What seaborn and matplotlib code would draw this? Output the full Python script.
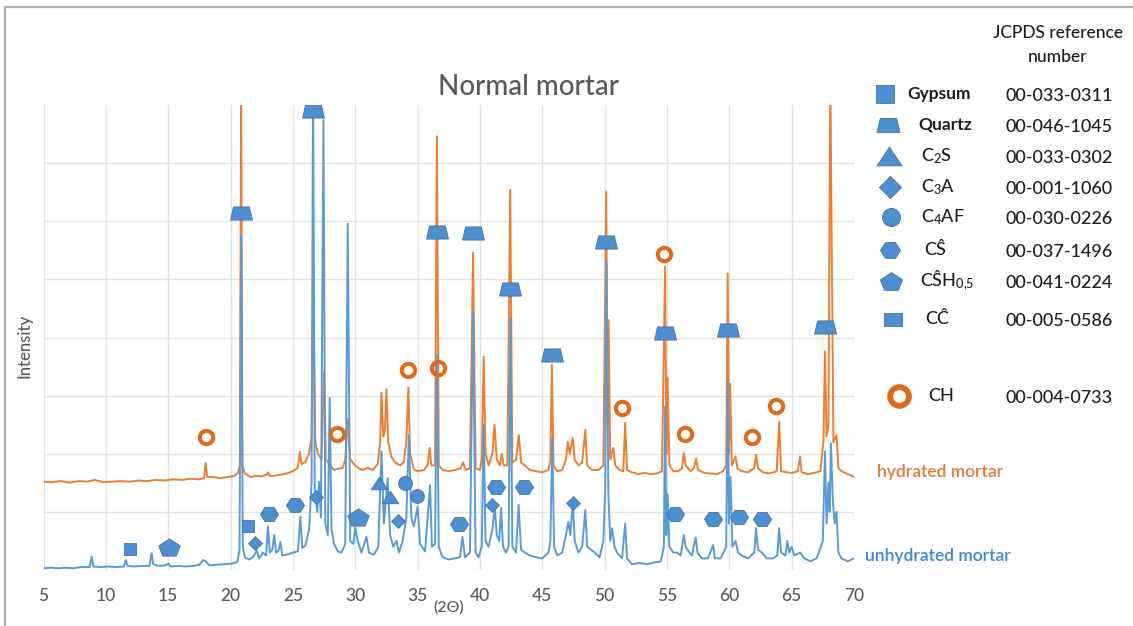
import matplotlib
matplotlib.use("Agg")
import matplotlib.pyplot as plt
import seaborn as sns
from matplotlib.path import Path
from matplotlib.lines import Line2D

# ---------------- data ----------------
unhydrated_points = [
    (5.0,0.03),(5.6,0.04),(6.2,0.03),(6.8,0.04),(7.4,0.03),(8.0,0.05),(8.7,0.05),(8.86,0.23),(9.0,0.06),
    (9.6,0.05),(10.2,0.06),(10.8,0.05),(11.45,0.06),(11.6,0.17),(11.75,0.07),(12.3,0.06),(12.9,0.07),
    (13.5,0.07),(13.67,0.29),(13.8,0.1),(14.2,0.07),(14.8,0.08),(15.0,0.11),(15.2,0.06),(15.8,0.07),
    (16.4,0.06),(17.0,0.07),(17.5,0.09),(17.8,0.17),(18.0,0.15),(18.3,0.08),(18.9,0.09),(19.5,0.1),
    (20.1,0.11),(20.55,0.14),(20.72,0.35),(20.85,5.77),(20.98,0.4),(21.15,0.22),(21.5,0.18),(21.8,0.22),
    (22.1,0.33),(22.3,0.2),(22.6,0.3),(22.85,0.25),(23.0,0.75),(23.15,0.3),(23.35,0.35),(23.5,0.6),
    (23.65,0.3),(23.85,0.33),(24.0,0.48),(24.15,0.25),(24.6,0.27),(25.0,0.3),(25.4,0.32),(25.6,0.92),
    (25.75,0.38),(26.0,0.42),(26.3,0.7),(26.5,1.5),(26.62,8.6),(26.75,1.4),(26.95,1.0),(27.1,1.52),
    (27.25,0.9),(27.45,7.74),(27.6,0.8),(27.8,0.6),(27.95,2.96),(28.1,0.7),(28.3,0.45),(28.6,0.32),
    (28.9,0.3),(29.2,0.45),(29.4,5.96),(29.6,0.5),(29.85,0.45),(30.0,0.74),(30.2,0.5),(30.5,0.3),
    (30.9,0.57),(31.1,0.3),(31.5,0.26),(31.85,0.4),(32.1,2.04),(32.3,0.8),(32.6,1.58),(32.8,0.6),
    (33.05,0.4),(33.3,0.5),(33.5,0.3),(33.8,0.5),(34.1,0.9),(34.3,2.32),(34.5,0.9),(34.7,0.75),
    (35.0,1.09),(35.2,0.45),(35.6,0.32),(36.0,1.46),(36.15,0.4),(36.4,0.45),(36.55,3.7),(36.7,0.4),
    (37.0,0.22),(37.5,0.18),(38.0,0.2),(38.4,0.22),(38.6,0.57),(38.8,0.22),(39.2,0.3),(39.45,4.45),
    (39.65,0.3),(39.9,0.22),(40.15,0.4),(40.3,2.5),(40.45,0.5),(40.7,0.4),(41.0,0.7),(41.2,1.07),
    (41.35,0.6),(41.55,0.5),(41.7,1.07),(41.85,0.4),(42.1,0.3),(42.3,0.4),(42.45,4.34),(42.6,0.4),
    (42.9,0.3),(43.1,1.12),(43.3,0.35),(43.6,0.3),(44.0,0.25),(44.5,0.22),(45.0,0.2),(45.5,0.3),
    (45.65,0.5),(45.8,2.27),(45.95,0.4),(46.2,0.25),(46.6,0.3),(46.9,0.6),(47.1,0.83),(47.25,0.6),
    (47.45,1.18),(47.6,0.5),(47.9,0.3),(48.2,0.4),(48.45,1.03),(48.6,0.4),(48.9,0.35),(49.2,0.3),
    (49.6,0.22),(49.9,0.5),(50.05,1.4),(50.15,5.31),(50.3,1.3),(50.45,0.5),(50.6,0.72),(50.8,0.4),
    (51.0,0.3),(51.4,0.2),(51.65,0.8),(51.8,0.2),(52.2,0.1),(52.8,0.12),(53.4,0.1),(54.0,0.13),
    (54.5,0.15),(54.75,0.4),(54.85,2.81),(54.95,0.6),(55.05,1.3),(55.2,0.4),(55.5,0.3),(55.8,0.3),
    (56.1,0.25),(56.35,0.6),(56.5,0.4),(56.8,0.3),(57.0,0.25),(57.3,0.56),(57.45,0.3),(57.8,0.2),
    (58.3,0.2),(58.7,0.43),(58.85,0.2),(59.3,0.2),(59.75,0.4),(59.87,3.27),(59.97,0.8),(60.1,1.6),
    (60.25,0.4),(60.5,0.5),(60.7,0.3),(61.0,0.25),(61.5,0.2),(62.0,0.3),(62.15,0.72),(62.3,0.35),
    (62.6,0.3),(63.0,0.2),(63.5,0.2),(63.85,0.25),(64.0,0.72),(64.15,0.3),(64.5,0.25),(64.66,0.5),
    (64.8,0.3),(65.0,0.4),(65.2,0.25),(65.7,0.3),(66.0,0.2),(66.5,0.15),(67.0,0.2),(67.5,0.5),
    (67.67,2.04),(67.8,0.8),(67.95,1.5),(68.05,1.0),(68.15,2.18),(68.3,1.2),(68.45,0.8),(68.6,1.0),
    (68.75,0.3),(69.0,0.2),(69.5,0.15),(70.0,0.2),
]

hydrated_points = [
    (5.0,1.52),(5.7,1.51),(6.4,1.53),(7.1,1.5),(7.8,1.53),(8.5,1.52),(9.1,1.55),(9.8,1.51),(10.5,1.52),
    (11.2,1.53),(11.9,1.52),(12.6,1.54),(13.3,1.53),(14.0,1.55),(14.7,1.54),(15.4,1.56),(16.1,1.55),
    (16.8,1.57),(17.5,1.56),(17.88,1.58),(18.0,1.84),(18.12,1.6),(18.6,1.6),(19.2,1.58),(19.8,1.6),
    (20.3,1.62),(20.6,1.67),(20.75,1.8),(20.85,8.6),(20.95,1.8),(21.15,1.66),(21.6,1.6),(22.0,1.62),
    (22.5,1.61),(22.88,1.64),(23.0,1.68),(23.12,1.62),(23.5,1.62),(24.0,1.64),(24.5,1.66),(25.0,1.7),
    (25.4,1.76),(25.55,2.03),(25.7,1.82),(26.0,1.86),(26.3,2.0),(26.5,2.3),(26.62,5.0),(26.8,2.2),
    (27.0,2.0),(27.3,1.9),(27.5,3.4),(27.65,1.9),(28.0,1.8),(28.3,1.72),(28.6,1.74),(29.0,1.76),
    (29.2,1.9),(29.4,2.6),(29.6,1.9),(30.0,1.8),(30.3,1.75),(30.6,1.72),(31.0,1.76),(31.4,1.72),
    (31.8,1.82),(32.0,2.2),(32.1,3.05),(32.25,2.3),(32.38,2.4),(32.5,3.11),(32.65,2.2),(32.9,1.95),
    (33.2,1.85),(33.6,1.8),(33.9,1.86),(34.1,2.2),(34.26,3.14),(34.4,2.0),(34.7,1.73),(35.0,1.7),
    (35.5,1.72),(35.8,1.8),(35.97,2.1),(36.1,1.8),(36.4,1.8),(36.55,7.46),(36.7,1.8),(37.0,1.72),
    (37.5,1.7),(38.0,1.72),(38.45,1.75),(38.65,1.85),(38.85,1.72),(39.2,1.75),(39.45,5.46),(39.65,1.75),
    (40.0,1.72),(40.15,1.9),(40.3,3.67),(40.45,2.0),(40.7,1.8),(41.0,2.0),(41.17,2.5),(41.35,1.9),
    (41.6,1.8),(41.75,2.0),(41.9,1.8),(42.2,1.8),(42.43,6.54),(42.6,1.85),(42.9,1.9),(43.12,2.32),
    (43.3,1.85),(43.6,1.8),(44.0,1.72),(44.5,1.7),(45.0,1.68),(45.5,1.72),(45.65,1.9),(45.77,3.53),
    (45.9,1.8),(46.2,1.7),(46.6,1.72),(46.9,1.9),(47.05,2.21),(47.2,2.0),(47.45,2.27),(47.6,1.9),
    (47.9,1.8),(48.2,1.85),(48.45,2.41),(48.6,1.8),(49.0,1.72),(49.5,1.72),(49.9,1.8),(50.13,6.51),
    (50.24,2.5),(50.32,4.3),(50.45,1.9),(50.7,2.1),(50.85,1.8),(51.2,1.72),(51.5,1.7),(51.65,2.53),
    (51.8,1.72),(52.2,1.68),(52.7,1.65),(53.2,1.67),(53.7,1.65),(54.2,1.66),(54.6,1.7),(54.85,5.22),
    (54.95,2.0),(55.05,3.3),(55.2,1.8),(55.5,1.7),(55.9,1.7),(56.2,1.75),(56.35,2.01),(56.5,1.8),
    (56.9,1.7),(57.15,1.75),(57.34,1.92),(57.5,1.72),(58.0,1.67),(58.5,1.66),(59.0,1.65),(59.5,1.7),
    (59.75,1.8),(59.87,5.1),(59.97,2.0),(60.07,3.2),(60.2,1.8),(60.5,1.95),(60.65,1.75),(61.0,1.7),
    (61.5,1.68),(62.0,1.75),(62.15,1.98),(62.3,1.75),(62.7,1.68),(63.2,1.66),(63.8,1.7),(64.0,2.55),
    (64.15,1.7),(64.6,1.68),(65.0,1.67),(65.5,1.7),(65.67,1.95),(65.8,1.68),(66.3,1.65),(66.8,1.67),
    (67.3,1.7),(67.55,2.2),(67.67,3.76),(67.8,2.3),(67.95,2.5),(68.1,8.6),(68.2,5.91),(68.35,2.2),
    (68.6,2.32),(68.75,1.75),(69.0,1.7),(69.5,1.65),(70.0,1.6),
]

unhyd_2theta = [p[0] for p in unhydrated_points]
unhyd_intensity = [p[1] for p in unhydrated_points]
hyd_2theta = [p[0] for p in hydrated_points]
hyd_intensity = [p[1] for p in hydrated_points]

# phase markers (position, marker height)
quartz_x = [20.85, 26.62, 36.55, 39.45, 42.45, 45.8, 50.1, 54.85, 59.9, 67.7]
quartz_y = [6.14, 7.89, 5.82, 5.8, 4.83, 3.7, 5.64, 4.07, 4.13, 4.18]
ch_x = [18.0, 28.56, 34.23, 36.63, 51.4, 54.74, 56.45, 61.8, 63.75]
ch_y = [2.29, 2.34, 3.44, 3.47, 2.79, 5.43, 2.34, 2.28, 2.83]
cs_x = [23.1, 25.15, 38.3, 41.3, 43.5, 55.65, 58.67, 60.8, 62.6]
cs_y = [0.96, 1.11, 0.79, 1.42, 1.42, 0.96, 0.88, 0.92, 0.88]
csh_x = [15.05, 30.2]
csh_y = [0.4, 0.91]
c3a_x = [22.0, 26.84, 33.4, 40.96, 47.45]
c3a_y = [0.46, 1.25, 0.85, 1.12, 1.15]
c2s_x = [31.9, 32.77]
c2s_y = [1.5, 1.25]
c4af_x = [34.0, 34.95]
c4af_y = [1.5, 1.28]
gypsum_x = [11.9, 21.4]
gypsum_y = [0.36, 0.75]

x_ticks = [5, 10, 15, 20, 25, 30, 35, 40, 45, 50, 55, 60, 65, 70]

legend_names = ["Gypsum", "Quartz", r"C$_\mathregular{2}$S", r"C$_\mathregular{3}$A", r"C$_\mathregular{4}$AF",
                "CŜ", r"CŜH$_\mathregular{0{,}5}$", "CĈ", "CH"]
legend_refs = ["00-033-0311", "00-046-1045", "00-033-0302", "00-001-1060", "00-030-0226",
               "00-037-1496", "00-041-0224", "00-005-0586", "00-004-0733"]

# ---------------- style ----------------
sns.set_theme(style="white")
plt.rcParams['font.family'] = ['Lato', 'DejaVu Sans']
plt.rcParams['mathtext.fontset'] = 'custom'
plt.rcParams['mathtext.rm'] = 'Lato'
plt.rcParams['mathtext.it'] = 'Lato'

BLUE = '#5B9BD5'
BLUE_MK = '#4F8FD0'
BLUE_EDGE = '#3F74A8'
ORANGE = '#ED7D31'
RING = '#E06A1B'
GRAY = '#595959'
TXT = '#1E1E1E'

W, H = 1133, 626
fig = plt.figure(figsize=(W / 100, H / 100), dpi=100)
ax = fig.add_axes([43.5 / W, 1 - 570 / H, 810.5 / W, 465 / H])

def poly(verts):
    return Path(verts + [verts[0]], closed=True)

trap = poly([(-1, -0.6), (1, -0.6), (0.72, 0.6), (-0.72, 0.6)])
hexa = poly([(-1, 0), (-0.5, 0.78), (0.5, 0.78), (1, 0), (0.5, -0.78), (-0.5, -0.78)])
penta = poly([(0, 0.8), (1, 0.15), (0.62, -0.8), (-0.62, -0.8), (-1, 0.15)])
tri = poly([(-1, -0.75), (1, -0.75), (0, 0.75)])
diam = poly([(0, 1), (1, 0), (0, -1), (-1, 0)])
rrect = poly([(-1, -0.72), (1, -0.72), (1, 0.72), (-1, 0.72)])

# traces
sns.lineplot(x=hyd_2theta, y=hyd_intensity, ax=ax, color=ORANGE, lw=1.4,
             estimator=None, sort=False, zorder=2)
sns.lineplot(x=unhyd_2theta, y=unhyd_intensity, ax=ax, color=BLUE, lw=1.4,
             estimator=None, sort=False, zorder=3)

mk = dict(ls='none', mfc=BLUE_MK, mec=BLUE_EDGE, mew=0.6, zorder=5)
ax.plot(quartz_x, quartz_y, marker=trap, ms=15.8, **mk)
ax.plot(cs_x, cs_y, marker=hexa, ms=13, **mk)
ax.plot(csh_x, csh_y, marker=penta, ms=15.5, **mk)
ax.plot(c3a_x, c3a_y, marker=diam, ms=10, **mk)
ax.plot(c2s_x, c2s_y, marker=tri, ms=12, **mk)
ax.plot(c4af_x, c4af_y, marker='o', ms=10, **mk)
ax.plot(gypsum_x, gypsum_y, marker='s', ms=8.8, **mk)
ax.plot(ch_x, ch_y, ls='none', marker='o', ms=9.6, mfc='none', mec=RING, mew=2.9, zorder=4)

ax.set_xlim(5, 70)
ax.set_ylim(0, 8)
ax.set_xticks(x_ticks)
ax.set_yticks(range(0, 8))
ax.set_yticklabels([])
ax.grid(True, color='#E2E2E2', lw=1.0)
ax.set_axisbelow(True)
for s in ax.spines.values():
    s.set_visible(False)
ax.tick_params(axis='x', length=0, pad=13, labelsize=12.5, labelcolor=GRAY)
for lbl in ax.get_xticklabels():
    lbl.set_fontweight('medium')
ax.tick_params(axis='y', length=0)
ax.set_xlabel("")
ax.set_ylabel("")

# ---------------- overlay: titles, labels, legend ----------------
lax = fig.add_axes([0, 0, 1, 1], zorder=10)
lax.set_xlim(0, W)
lax.set_ylim(H, 0)
lax.axis('off')

lax.text(528, 87, "Normal mortar", ha='center', va='center', fontsize=20, color=GRAY, fontweight='medium')
lax.text(24, 346, "Intensity", ha='center', va='center', rotation=90, fontsize=12, color=GRAY, fontweight='medium')
lax.text(449, 607, "(2Θ)", ha='center', va='center', fontsize=11.5, color=GRAY, fontweight='medium')
lax.text(877, 472, "hydrated mortar", ha='left', va='center', fontsize=12.5, color='#E07A35', fontweight='semibold')
lax.text(865, 556, "unhydrated mortar", ha='left', va='center', fontsize=12.5, color='#3A88D2', fontweight='semibold')

lax.text(1058, 33, "JCPDS reference", ha='center', va='center', fontsize=12.5, color=TXT, fontweight='medium')
lax.text(1058, 57, "number", ha='center', va='center', fontsize=12.5, color=TXT, fontweight='medium')

leg_y = [94, 125, 156, 187, 217, 250, 281, 319, 396]
leg_tx = [907, 918, 921, 921, 921, 924, 920, 925, 928]
leg_mx = [885, 888, 889, 890, 891, 890, 891, 893, 899]
leg_markers = [('s', 12.5), (trap, 16.5), (tri, 18), (diam, 16), ('o', 13), (hexa, 14.5),
               (penta, 16), (rrect, 13), ('o', 13.5)]
for i, (name, ref) in enumerate(zip(legend_names, legend_refs)):
    m, size = leg_markers[i]
    if name == "CH":
        lax.plot([leg_mx[i]], [leg_y[i]], marker='o', ms=size, mfc='none', mec=RING, mew=4.2, ls='none')
    else:
        lax.plot([leg_mx[i]], [leg_y[i]], marker=m, ms=size, mfc=BLUE_MK, mec=BLUE_EDGE, mew=0.6, ls='none')
    weight = 'bold' if i < 2 else 'medium'
    lax.text(leg_tx[i], leg_y[i], name, ha='left', va='center', fontsize=12.5 if i < 2 else 13,
             color=TXT, fontweight=weight)
    lax.text(1005, leg_y[i] + 2, ref, ha='left', va='center', fontsize=13, color=TXT, fontweight='medium')

# outer chart frame (top and left edges visible)
fig.add_artist(Line2D([5 / W, 5 / W], [0, 1 - 7 / H], color='#B0B0B0', lw=1.6))
fig.add_artist(Line2D([5 / W, 1], [1 - 7 / H, 1 - 7 / H], color='#B0B0B0', lw=1.6))

fig.savefig("out.png", dpi=100)
